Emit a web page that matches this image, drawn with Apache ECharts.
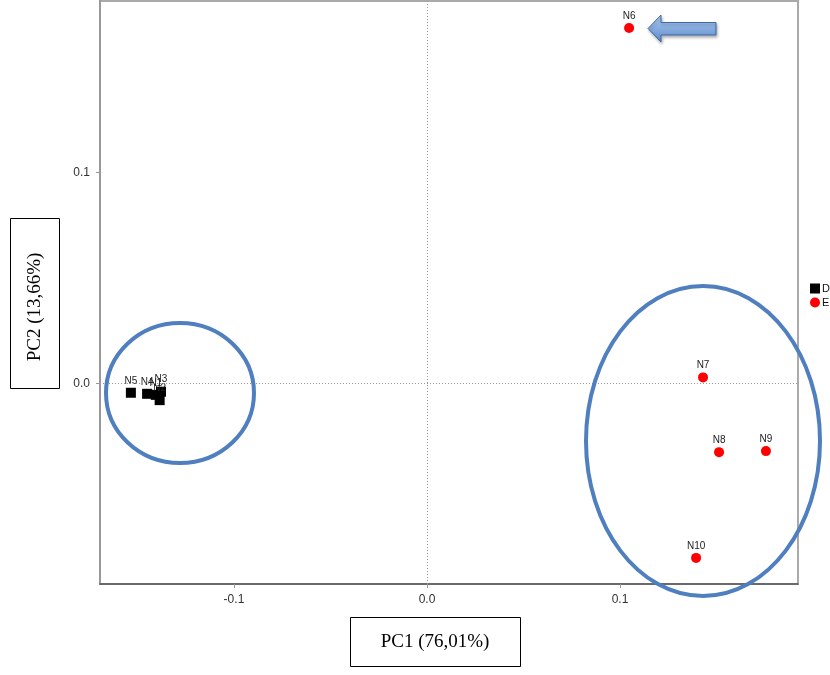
<!DOCTYPE html>
<html>
<head>
<meta charset="utf-8">
<script src="https://cdn.jsdelivr.net/npm/echarts@6/dist/echarts.min.js"></script>
<style>
  html, body { margin: 0; padding: 0; background: #fff; }
  #chart { width: 830px; height: 675px; }
</style>
</head>
<body>
<div id="chart"></div>
<script>
// PCA scores: group D (black squares) and group E (red circles)
const groupD = "D";
const groupE = "E";
const namesD = ["N1", "N2", "N3", "N4", "N5"];
const pc1D = [-0.1405, -0.1385, -0.1378, -0.1450, -0.1534];
const pc2D = [-0.0055, -0.0080, -0.0040, -0.0050, -0.0045];

const namesE = ["N6", "N7", "N8", "N9", "N10"];
const pc1E = [0.1047, 0.1430, 0.1513, 0.1756, 0.1394];
const pc2E = [0.1687, 0.0028, -0.0327, -0.0322, -0.0829];

const xTicks = [-0.1, 0.0, 0.1];
const yTicks = [0.0, 0.1];

const xTitle = "PC1 (76,01%)";
const yTitle = "PC2 (13,66%)";

function toPoints(names, xs, ys) {
  return names.map((n, i) => ({ name: n, value: [xs[i], ys[i]] }));
}

const chart = echarts.init(document.getElementById('chart'), null, { renderer: 'canvas' });

const tickFont = { fontFamily: 'Liberation Sans, Arial, sans-serif', fontSize: 12, color: '#333' };
const pointLabel = {
  show: true,
  position: 'top',
  distance: 2,
  formatter: p => p.name,
  fontFamily: 'Liberation Sans, Arial, sans-serif',
  fontSize: 10,
  color: '#222'
};

const option = {
  animation: false,
  backgroundColor: '#fff',
  grid: {
    left: 100, right: 32, top: 1, bottom: 91,
    show: true, borderColor: '#aaa', borderWidth: 2, backgroundColor: '#fff'
  },
  legend: {
    orient: 'vertical',
    left: 810, top: 283, padding: 0,
    itemWidth: 10, itemHeight: 10, itemGap: 3,
    textStyle: { fontFamily: 'Liberation Sans, Arial, sans-serif', fontSize: 11, color: '#111', padding: [0, 0, 0, -3] },
    data: [
      { name: groupD, icon: 'rect' },
      { name: groupE, icon: 'circle' }
    ]
  },
  xAxis: {
    type: 'value',
    min: -0.1694, max: 0.1922,
    axisLine: { show: true, onZero: false, lineStyle: { color: '#555', width: 1.5 } },
    axisTick: { show: true, length: 4, customValues: xTicks, lineStyle: { color: '#999' } },
    axisLabel: Object.assign({ customValues: xTicks, margin: 10, formatter: v => v.toFixed(1) }, tickFont),
    splitLine: { show: false }
  },
  yAxis: {
    type: 'value',
    min: -0.0953, max: 0.1815,
    axisLine: { show: true, onZero: false, lineStyle: { color: '#999', width: 2 } },
    axisTick: { show: true, length: 4, customValues: yTicks, lineStyle: { color: '#999' } },
    axisLabel: Object.assign({ customValues: yTicks, margin: 10, formatter: v => v.toFixed(1) }, tickFont),
    splitLine: { show: false }
  },
  series: [
    {
      name: groupD,
      type: 'scatter',
      symbol: 'rect',
      symbolSize: 10,
      itemStyle: { color: '#000', opacity: 1 },
      label: pointLabel,
      data: toPoints(namesD, pc1D, pc2D),
      markLine: {
        silent: true,
        symbol: 'none',
        label: { show: false },
        lineStyle: { color: '#999', type: [1, 2], width: 1 },
        data: [{ xAxis: 0 }, { yAxis: 0 }]
      },
      z: 3
    },
    {
      name: groupE,
      type: 'scatter',
      symbol: 'circle',
      symbolSize: 10,
      itemStyle: { color: '#ff0000', opacity: 1 },
      label: pointLabel,
      data: toPoints(namesE, pc1E, pc2E),
      z: 4
    }
  ],
  graphic: [
    // cluster outlines
    {
      type: 'ellipse', z: 100,
      shape: { cx: 180, cy: 393, rx: 74, ry: 70 },
      style: { fill: 'none', stroke: '#4f7fbf', lineWidth: 4 }
    },
    {
      type: 'ellipse', z: 100,
      shape: { cx: 703, cy: 441, rx: 117, ry: 155 },
      style: { fill: 'none', stroke: '#4f7fbf', lineWidth: 4 }
    },
    // arrow pointing at N6
    {
      type: 'polygon', z: 100,
      shape: { points: [[648, 28.5], [661, 15], [661, 22.5], [716, 22.5], [716, 35], [661, 35], [661, 42]] },
      style: {
        fill: new echarts.graphic.LinearGradient(0, 0, 0, 1, [
          { offset: 0, color: '#b3cdee' },
          { offset: 0.5, color: '#86acdf' },
          { offset: 1, color: '#5f8ac9' }
        ]),
        stroke: '#3d6aa8', lineWidth: 1,
        shadowBlur: 3, shadowOffsetX: 1, shadowOffsetY: 2, shadowColor: 'rgba(0,0,0,0.3)'
      }
    },
    // axis title boxes
    {
      type: 'rect', z: 100,
      shape: { x: 350.5, y: 617.5, width: 170, height: 49 },
      style: { fill: '#fff', stroke: '#000', lineWidth: 1 }
    },
    {
      type: 'text', z: 101,
      x: 435, y: 642,
      style: {
        text: xTitle, align: 'center', verticalAlign: 'middle',
        font: '19px "Liberation Serif", "Times New Roman", serif', fill: '#000'
      }
    },
    {
      type: 'rect', z: 100,
      shape: { x: 10.5, y: 218.5, width: 49, height: 170 },
      style: { fill: '#fff', stroke: '#000', lineWidth: 1 }
    },
    {
      type: 'text', z: 101,
      x: 35, y: 307, rotation: Math.PI / 2,
      style: {
        text: yTitle, align: 'center', verticalAlign: 'middle',
        font: '19px "Liberation Serif", "Times New Roman", serif', fill: '#000'
      }
    }
  ]
};

chart.setOption(option);
</script>
</body>
</html>
